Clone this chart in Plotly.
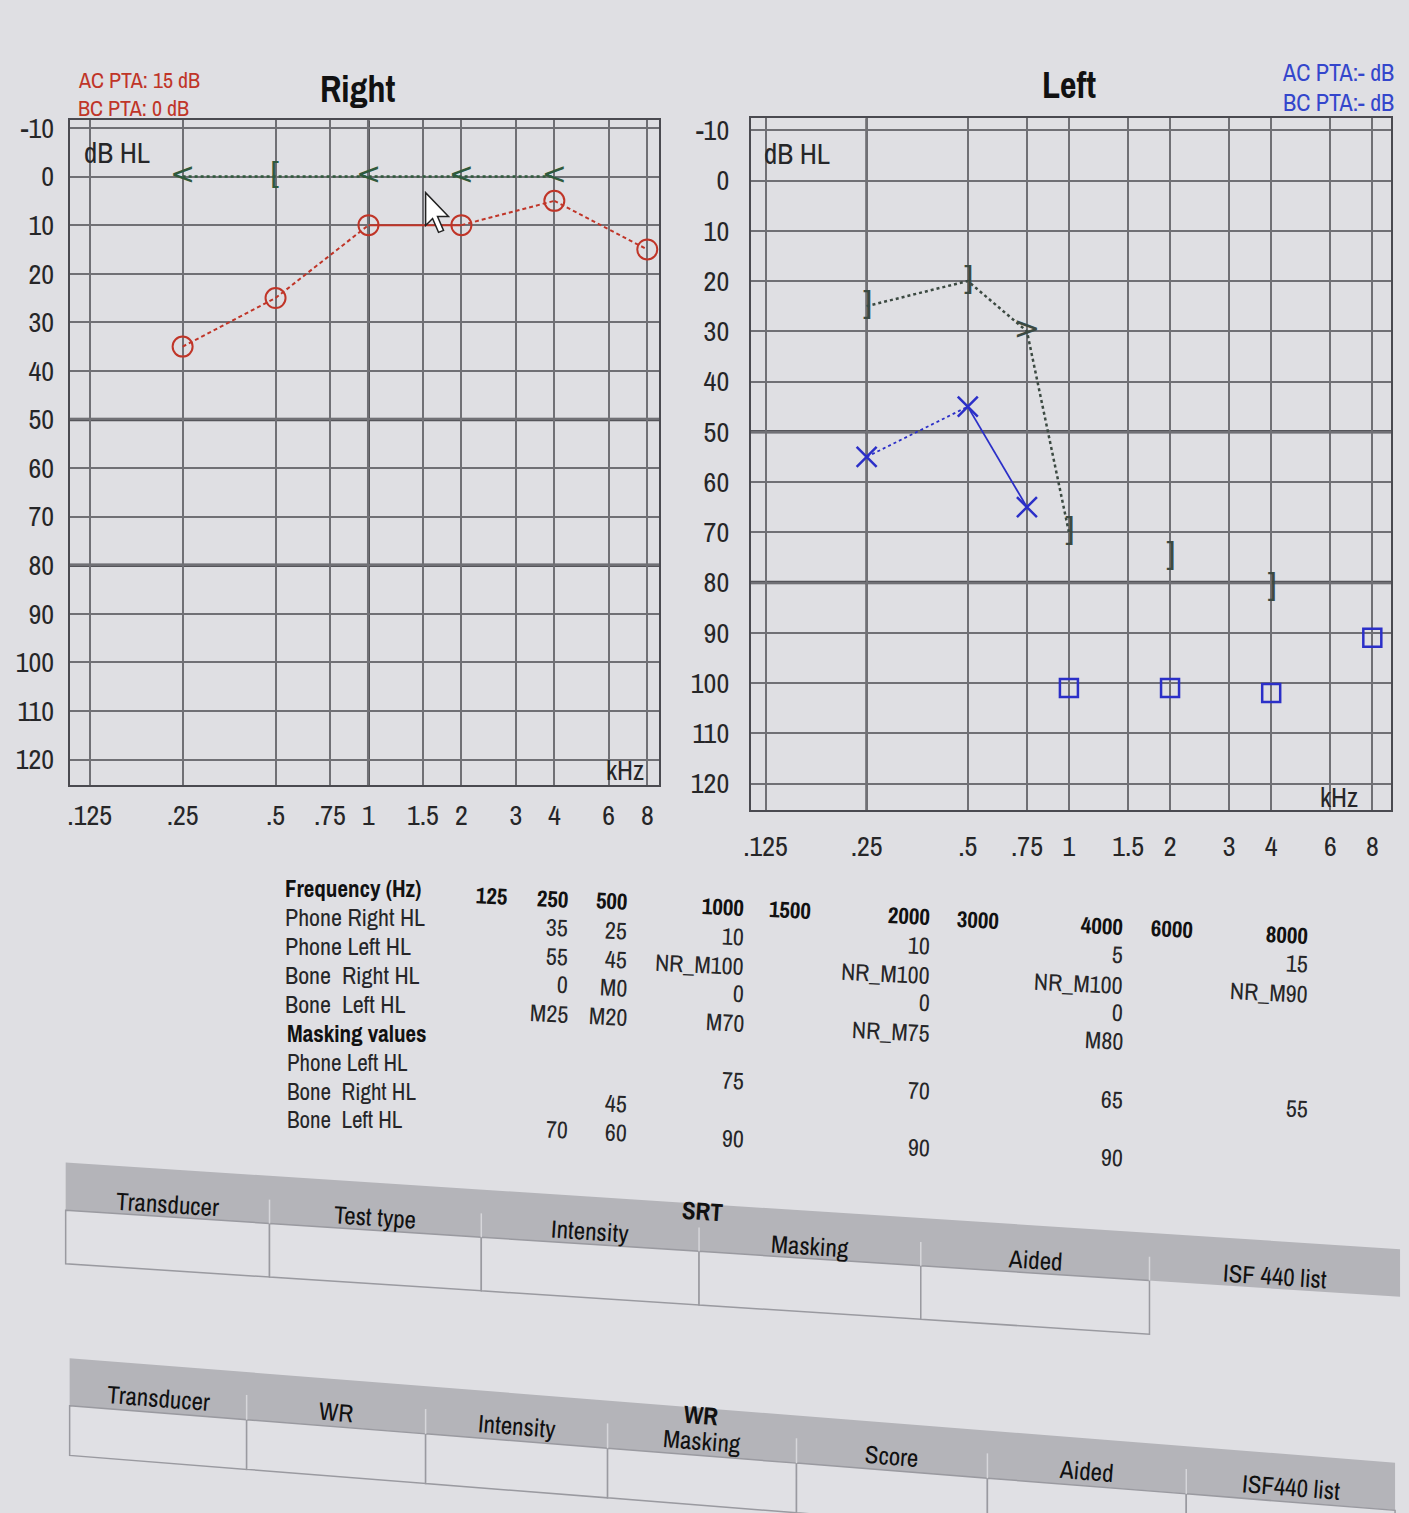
import math
import plotly.graph_objects as go

W, H = 1409, 1513

# ---------------- DATA ----------------
tick_khz = [0.125, 0.25, 0.5, 0.75, 1, 1.5, 2, 3, 4, 6, 8]
tick_khz_labels = [".125", ".25", ".5", ".75", "1", "1.5", "2", "3", "4", "6", "8"]
db_ticks = list(range(-10, 121, 10))
db_tick_labels = [str(v) for v in db_ticks]
thick_db = [50, 80]
right_thick_khz = [1]
left_thick_khz = [0.25]

# Right ear, air conduction (red circles)
right_ac_khz = [0.25, 0.5, 1, 2, 4, 8]
right_ac_db = [35, 25, 10, 10, 5, 15]
right_ac_dash = ["dash", "dash", "solid", "dash", "dash"]

# Right ear, bone conduction
right_bc_khz = [0.25, 0.5, 1, 2, 4]
right_bc_db = [0, 0, 0, 0, 0]
right_bc_sym = ["<", "[", "<", "<", "<"]

# Left ear, air conduction (blue X)
left_ac_khz = [0.25, 0.5, 0.75]
left_ac_db = [55, 45, 65]
left_ac_dash = ["dot", "solid"]

# Left ear, air conduction no response (blue squares)
left_nr_khz = [1, 2, 4, 8]
left_nr_db = [101, 101, 102, 91]

# Left ear, bone conduction
left_bc_khz = [0.25, 0.5, 0.75, 1, 2, 4]
left_bc_db = [25, 20, 30, 70, 75, 81]
left_bc_sym = ["]", "]", ">", "]", "]", "]"]
left_bc_joined = 4

# Frequency table
freq_cols = ["125", "250", "500", "1000", "1500", "2000", "3000", "4000", "6000", "8000"]
row_labels = ["Phone Right HL", "Phone Left HL", "Bone  Right HL", "Bone  Left HL"]
phone_right = ["", "35", "25", "10", "", "10", "", "5", "", "15"]
phone_left = ["", "55", "45", "NR_M100", "", "NR_M100", "", "NR_M100", "", "NR_M90"]
bone_right = ["", "0", "M0", "0", "", "0", "", "0", "", ""]
bone_left = ["", "M25", "M20", "M70", "", "NR_M75", "", "M80", "", ""]
mask_labels = ["Phone Left HL", "Bone  Right HL", "Bone  Left HL"]
mask_phone_left = ["", "", "", "75", "", "70", "", "65", "", "55"]
mask_bone_right = ["", "", "45", "", "", "", "", "", "", ""]
mask_bone_left = ["", "70", "60", "90", "", "90", "", "90", "", ""]

srt_columns = ["Transducer", "Test type", "Intensity", "Masking", "Aided", "ISF 440 list"]
wr_columns = ["Transducer", "WR", "Intensity", "Masking", "Score", "Aided", "ISF440 list"]

# ---------------- STYLE ----------------
BG = "#dfdfe3"
GRID = "#707075"
FRAME = "#4a4a50"
TXT = "#262628"
RED = "#c03528"
BLUE = "#2b2fc8"
BLUE_TXT = "#3446cc"
GREEN = "#2f5a3c"
GRAYSYM = "#3c4a42"
FONT = "Archivo Narrow, PT Sans Narrow, Roboto Condensed, Liberation Sans, sans-serif"


def px(x):
    return x / W


def py(y):
    return 1 - y / H


fig = go.Figure()

# ---- Right ear ----
for i, d in enumerate(right_ac_dash):
    fig.add_trace(go.Scatter(x=right_ac_khz[i:i + 2], y=right_ac_db[i:i + 2], mode="lines",
                             line=dict(color=RED, width=2, dash=d if d == "solid" else "4px,3px"),
                             xaxis="x", yaxis="y", showlegend=False, hoverinfo="skip"))
fig.add_trace(go.Scatter(x=right_bc_khz, y=right_bc_db, mode="lines",
                         line=dict(color=GREEN, width=2.5, dash="dot"), xaxis="x", yaxis="y",
                         showlegend=False, hoverinfo="skip"))
fig.add_trace(go.Scatter(x=right_ac_khz, y=right_ac_db, mode="markers",
                         marker=dict(symbol="circle-open", size=20, color=RED, line=dict(width=2, color=RED)),
                         xaxis="x", yaxis="y", showlegend=False))
fig.add_trace(go.Scatter(x=right_bc_khz, y=right_bc_db, mode="text", text=right_bc_sym,
                         textposition="middle center",
                         textfont=dict(size=30, color=GREEN, family="DejaVu Sans"),
                         xaxis="x", yaxis="y", showlegend=False))

# ---- Left ear ----
for i, d in enumerate(left_ac_dash):
    fig.add_trace(go.Scatter(x=left_ac_khz[i:i + 2], y=left_ac_db[i:i + 2], mode="lines",
                             line=dict(color=BLUE, width=1.8, dash=d), xaxis="x2", yaxis="y2",
                             showlegend=False, hoverinfo="skip"))
fig.add_trace(go.Scatter(x=left_bc_khz[:left_bc_joined], y=left_bc_db[:left_bc_joined], mode="lines",
                         line=dict(color=GRAYSYM, width=2.5, dash="dot"), xaxis="x2", yaxis="y2",
                         showlegend=False, hoverinfo="skip"))
fig.add_trace(go.Scatter(x=left_ac_khz, y=left_ac_db, mode="markers",
                         marker=dict(symbol="x-thin", size=20, color=BLUE, line=dict(width=2.5, color=BLUE)),
                         xaxis="x2", yaxis="y2", showlegend=False))
fig.add_trace(go.Scatter(x=left_nr_khz, y=left_nr_db, mode="markers",
                         marker=dict(symbol="square-open", size=18, color=BLUE, line=dict(width=2.5, color=BLUE)),
                         xaxis="x2", yaxis="y2", showlegend=False))
fig.add_trace(go.Scatter(x=left_bc_khz, y=left_bc_db, mode="text", text=left_bc_sym,
                         textposition="middle center",
                         textfont=dict(size=32, color=GRAYSYM, family="DejaVu Sans"),
                         xaxis="x2", yaxis="y2", showlegend=False))

axis_x = dict(type="log", tickvals=tick_khz, ticktext=tick_khz_labels, showgrid=True,
              gridcolor=GRID, gridwidth=1.6, showline=True, linecolor=FRAME, linewidth=2,
              mirror=True, ticks="", zeroline=False,
              tickfont=dict(size=28, color=TXT, family=FONT))
axis_y = dict(tickvals=db_ticks, ticktext=db_tick_labels, showgrid=True, gridcolor=GRID, gridwidth=1.6,
              showline=True, linecolor=FRAME, linewidth=2, mirror=True, ticks="", zeroline=False,
              tickfont=dict(size=28, color=TXT, family=FONT))

fig.update_layout(
    width=W, height=H, paper_bgcolor=BG, plot_bgcolor=BG,
    margin=dict(l=0, r=0, t=0, b=0), showlegend=False,
    xaxis=dict(axis_x, domain=[px(62), px(655)], range=[-0.968, 0.942], anchor="y", ticklabelstandoff=4),
    yaxis=dict(axis_y, domain=[py(780), py(110)], range=[125.3, -11.6], anchor="x", ticklabelstandoff=8),
    xaxis2=dict(axis_x, domain=[px(747), px(1391)], range=[-0.947, 0.959], anchor="y2", ticklabelstandoff=10),
    yaxis2=dict(axis_y, domain=[py(805), py(108)], range=[125.3, -12.4], anchor="x2", ticklabelstandoff=14),
)

shapes = []
for xr, yr in (("x", "y"), ("x2", "y2")):
    for v in thick_db:
        shapes.append(dict(type="line", xref=f"{xr} domain", yref=yr, x0=0, x1=1, y0=v, y1=v,
                           line=dict(color="#55555a", width=3.5), layer="below"))
for v in right_thick_khz:
    shapes.append(dict(type="line", xref="x", yref="y domain", x0=v, x1=v, y0=0, y1=1,
                       line=dict(color="#55555a", width=3), layer="below"))
for v in left_thick_khz:
    shapes.append(dict(type="line", xref="x2", yref="y2 domain", x0=v, x1=v, y0=0, y1=1,
                       line=dict(color="#55555a", width=2.6), layer="below"))


def P(x, y):
    return f"{x / W:.5f},{1 - y / H:.5f}"


def para_path(x0, x1, y0, y1, xb, s):
    pts = [(x0, y0 + s * (x0 - xb)), (x1, y0 + s * (x1 - xb)),
           (x1, y1 + s * (x1 - xb)), (x0, y1 + s * (x0 - xb))]
    return "M " + " L ".join(P(*p) for p in pts) + " Z"


def seg(x, y0, y1, xb, s, color, width):
    return dict(type="line", xref="paper", yref="paper",
                x0=px(x), x1=px(x), y0=py(y0 + s * (x - xb)), y1=py(y1 + s * (x - xb)),
                line=dict(color=color, width=width))


annotations = []


def text(x, y, t, size, color=TXT, xanchor="left", bold=False, angle=0, family=FONT):
    annotations.append(dict(x=px(x), y=py(y), xref="paper", yref="paper", text=t, showarrow=False,
                            xanchor=xanchor, yanchor="middle", textangle=angle,
                            font=dict(size=size, color=color, family=family,
                                      weight="bold" if bold else "normal")))


# headings and in-plot labels
text(68, 70, "AC PTA: 15 dB", 22, RED)
text(68, 98, "BC PTA: 0 dB", 22, RED)
text(352, 79, "Right", 36, "#111", "center", True)
text(1067, 75, "Left", 36, "#111", "center", True)
text(1396, 61, "AC PTA:- dB", 24, BLUE_TXT, "right")
text(1396, 92, "BC PTA:- dB", 24, BLUE_TXT, "right")
text(74, 143, "dB HL", 29)
text(758, 144, "dB HL", 29)
text(642, 765, "kHz", 27, TXT, "right")
text(1360, 792, "kHz", 27, TXT, "right")

# mouse pointer seen on the screen
cur = [(420, 183), (420, 216), (427, 209), (433, 223), (438, 221), (432, 207), (443, 207)]
shapes.append(dict(type="path", xref="paper", yref="paper",
                   path="M " + " L ".join(P(*c) for c in cur) + " Z",
                   fillcolor="white", line=dict(color="#222", width=1.5)))

# ---- frequency table ----
TS = 0.049
ang_t = math.degrees(math.atan(TS))
col_right = [505, 566, 625, 743, 810, 930, 1000, 1124, 1195, 1310]
label_x = 277
TSIZE = 23


def skew(x):
    return TS * (x - 350)


text(label_x, 884, "Frequency (Hz)", TSIZE, "#111", bold=True)
for c, xr in zip(freq_cols, col_right):
    text(xr, 884 + skew(xr - 20), c, TSIZE, "#111", "right", True, ang_t)
rows_main = [phone_right, phone_left, bone_right, bone_left]
row_y_main = [913, 942, 971, 1000]
for lab, vals, yy in zip(row_labels, rows_main, row_y_main):
    text(label_x, yy, lab, TSIZE + 1)
    for v, xr in zip(vals, col_right):
        if v:
            text(xr, yy + skew(xr - 20), v, TSIZE + 1, TXT, "right", False, ang_t)
text(label_x + 2, 1030, "Masking values", TSIZE, "#111", bold=True)
rows_mask = [mask_phone_left, mask_bone_right, mask_bone_left]
row_y_mask = [1059, 1088, 1117]
for lab, vals, yy in zip(mask_labels, rows_mask, row_y_mask):
    text(label_x + 2, yy, lab, TSIZE)
    for v, xr in zip(vals, col_right):
        if v:
            text(xr, yy + skew(xr - 20), v, TSIZE + 1, TXT, "right", False, ang_t)

# ---- SRT table ----
BAND = "#b4b4b9"
CELL = "#e0e0e4"
CELL_LINE = "#9a9aa0"
SEP = "#d6d6da"

s1, xb1 = 0.065, 58
srt_edges = [58, 263, 476, 695, 918, 1148, 1400]
shapes.append(dict(type="path", xref="paper", yref="paper",
                   path=para_path(srt_edges[0], srt_edges[-1], 1160, 1208, xb1, s1),
                   fillcolor=BAND, line=dict(width=0), layer="below"))
for i in range(len(srt_columns) - 1):
    shapes.append(dict(type="path", xref="paper", yref="paper",
                       path=para_path(srt_edges[i], srt_edges[i + 1], 1208, 1262, xb1, s1),
                       fillcolor=CELL, line=dict(color=CELL_LINE, width=1.5), layer="below"))
for e in srt_edges[1:-1]:
    shapes.append(seg(e, 1184, 1208, xb1, s1, SEP, 1.5))
ang1 = math.degrees(math.atan(s1))
text(698, 1167 + s1 * (698 - xb1), "SRT", 25, "#111", "center", True, ang1)
for i, lab in enumerate(srt_columns):
    cx = (srt_edges[i] + srt_edges[i + 1]) / 2
    text(cx, 1195 + s1 * (cx - xb1), lab, 25, "#111", "center", False, ang1)

# ---- WR table ----
s2, xb2 = 0.079, 62
wr_edges = [62, 240, 420, 603, 793, 985, 1185, 1395]
shapes.append(dict(type="path", xref="paper", yref="paper",
                   path=para_path(wr_edges[0], wr_edges[-1], 1357, 1405, xb2, s2),
                   fillcolor=BAND, line=dict(width=0), layer="below"))
for i in range(len(wr_columns)):
    shapes.append(dict(type="path", xref="paper", yref="paper",
                       path=para_path(wr_edges[i], wr_edges[i + 1], 1405, 1455, xb2, s2),
                       fillcolor=CELL, line=dict(color=CELL_LINE, width=1.5), layer="below"))
for e in wr_edges[1:-1]:
    shapes.append(seg(e, 1380, 1405, xb2, s2, SEP, 1.5))
ang2 = math.degrees(math.atan(s2))
text(697, 1364 + s2 * (697 - xb2), "WR", 25, "#111", "center", True, ang2)
for i, lab in enumerate(wr_columns):
    cx = (wr_edges[i] + wr_edges[i + 1]) / 2
    text(cx, 1390 + s2 * (cx - xb2), lab, 25, "#111", "center", False, ang2)

fig.update_layout(shapes=shapes, annotations=annotations)
fig.write_html("out.html", config={"displayModeBar": False},
               post_script="document.body.style.margin='0';document.body.style.overflow='hidden';")
